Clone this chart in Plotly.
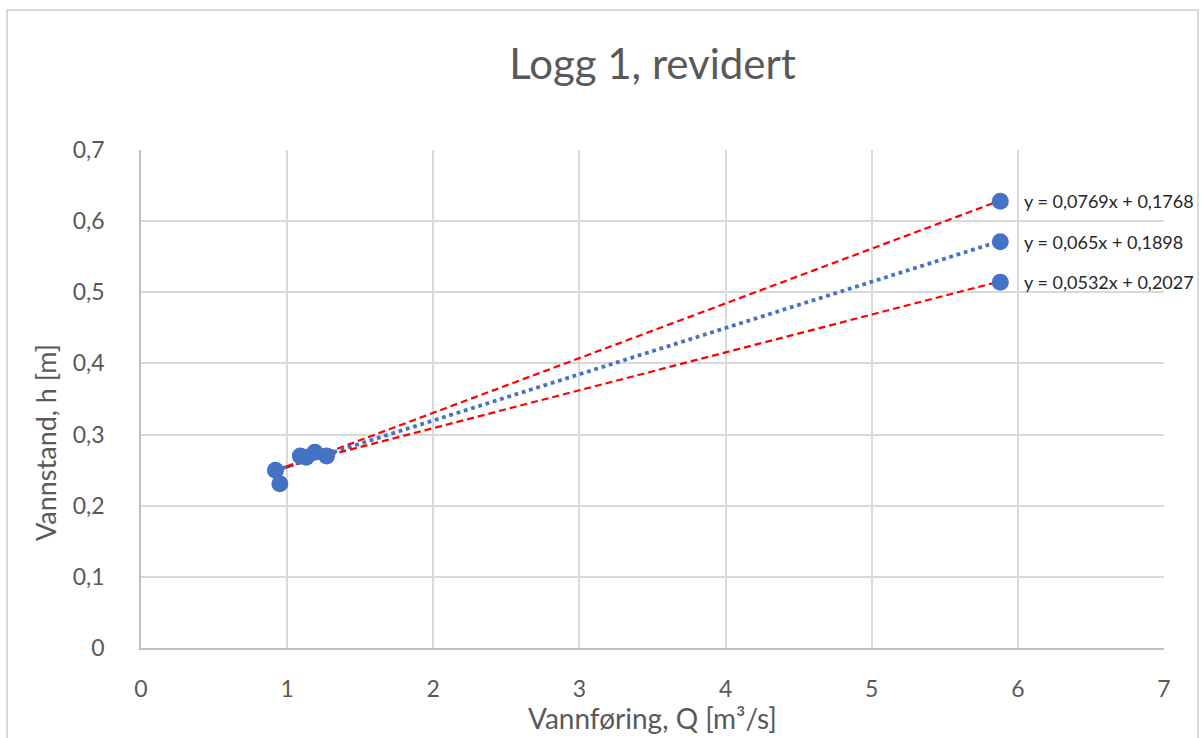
import plotly.graph_objects as go

# Data
q_values = [0.92, 0.95, 1.09, 1.13, 1.19, 1.27, 5.88, 5.88, 5.88]
h_values = [0.250, 0.231, 0.270, 0.268, 0.275, 0.270, 0.628, 0.571, 0.514]

# Trendlines shown on the chart (slope, intercept)
trend_slopes = [0.0769, 0.065, 0.0532]
trend_intercepts = [0.1768, 0.1898, 0.2027]
trend_labels = ["y = 0,0769x + 0,1768", "y = 0,065x + 0,1898", "y = 0,0532x + 0,2027"]
trend_styles = ["red", "blue", "red"]
label_y = [0.628, 0.571, 0.514]

x_ticks = [0, 1, 2, 3, 4, 5, 6, 7]
y_ticks = [0, 0.1, 0.2, 0.3, 0.4, 0.5, 0.6, 0.7]
y_ticktext = ["0", "0,1", "0,2", "0,3", "0,4", "0,5", "0,6", "0,7"]

BLUE = "#4472C4"
GRAY = "#595959"
FONT = "Lato"

W, H = 1201, 738
ML, MR, MT, MB = 141, 37, 150, 90
PW, PH = W - ML - MR, H - MT - MB


def px_to_paper_x(px):
    return (px - ML) / PW


def px_to_paper_y(py):
    return (H - MB - py) / PH


fig = go.Figure()

x0, x1 = min(q_values), max(q_values)
for s, b, style in zip(trend_slopes, trend_intercepts, trend_styles):
    if style == "red":
        line = dict(color="#FF0000", width=2.2, dash="7px,4px")
    else:
        line = dict(color=BLUE, width=3.8, dash="dot")
    fig.add_trace(go.Scatter(x=[x0, x1], y=[s * x0 + b, s * x1 + b], mode="lines",
                             line=line, showlegend=False, hoverinfo="skip"))

fig.add_trace(go.Scatter(x=q_values, y=h_values, mode="markers",
                         marker=dict(color=BLUE, size=17, line=dict(width=0)),
                         showlegend=False, cliponaxis=False))

for txt, yv in zip(trend_labels, label_y):
    fig.add_annotation(x=6.03, y=yv, xref="x", yref="y", text=txt, showarrow=False,
                       xanchor="left", yanchor="middle",
                       font=dict(family=FONT, size=18, color="#262626"))

# Axis titles
fig.add_annotation(x=px_to_paper_x(652), y=px_to_paper_y(718), xref="paper", yref="paper",
                   text="Vannføring, Q [m³/s]", showarrow=False,
                   xanchor="center", yanchor="middle",
                   font=dict(family=FONT, size=28, color=GRAY))
fig.add_annotation(x=px_to_paper_x(45), y=px_to_paper_y(443), xref="paper", yref="paper",
                   text="Vannstand, h [m]", showarrow=False, textangle=-90,
                   xanchor="center", yanchor="middle",
                   font=dict(family=FONT, size=27, color=GRAY))

# Outer chart border
fig.add_shape(type="rect", xref="paper", yref="paper",
              x0=px_to_paper_x(7), x1=px_to_paper_x(1198),
              y0=px_to_paper_y(760), y1=px_to_paper_y(10),
              line=dict(color="#d9d9d9", width=2), layer="below")

fig.update_layout(
    width=W, height=H,
    paper_bgcolor="white", plot_bgcolor="white",
    margin=dict(l=ML, r=MR, t=MT, b=MB),
    title=dict(text="Logg 1, revidert", x=0.5, xanchor="center", xref="paper",
               y=1 - 64 / H, yanchor="middle", yref="container",
               font=dict(family=FONT, size=42, color=GRAY)),
    font=dict(family=FONT, color=GRAY),
)

fig.update_xaxes(range=[0, 7], tickvals=x_ticks, ticktext=[str(t) for t in x_ticks],
                 showgrid=True, gridcolor="#d9d9d9", gridwidth=1.5,
                 showline=True, linecolor="#bfbfbf", linewidth=1.5,
                 zeroline=False, ticks="", ticklabelstandoff=20,
                 tickfont=dict(family=FONT, size=23, color=GRAY))
fig.update_yaxes(range=[0, 0.7], tickvals=y_ticks, ticktext=y_ticktext,
                 showgrid=True, gridcolor="#d9d9d9", gridwidth=1.5,
                 showline=True, linecolor="#bfbfbf", linewidth=1.5,
                 zeroline=False, ticks="", ticklabelstandoff=30,
                 tickfont=dict(family=FONT, size=23, color=GRAY))

fig.write_html("out.html", config={"displayModeBar": False},
               post_script="document.body.style.margin='0';")
